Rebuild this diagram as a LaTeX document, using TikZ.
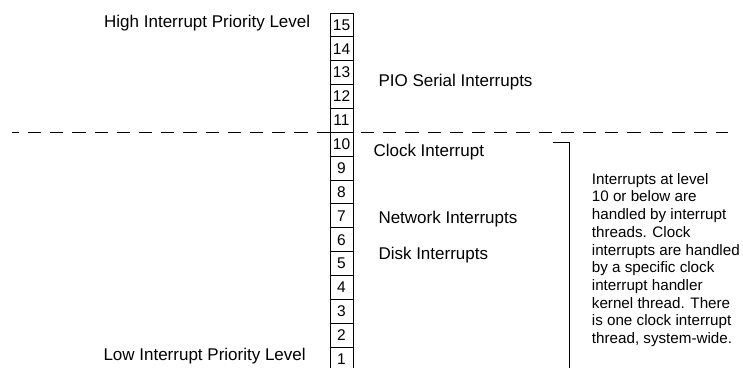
\documentclass[tikz,border=0pt]{standalone}
\usepackage{fontspec}
\setmainfont{Liberation Sans}
\begin{document}
\begin{tikzpicture}[x=1pt,y=-1pt,
  levelbox/.style={draw, line width=0.8pt, minimum width=23pt, minimum height=23.86pt,
    inner sep=0pt, font=\fontsize{15.5}{15.5}\selectfont},
  label/.style={anchor=base west, inner sep=0pt, font=\fontsize{17}{17}\selectfont},
  note/.style={anchor=north west, inner sep=0pt, align=left,
    font=\fontsize{15.2}{17.7}\selectfont},
  divider/.style={line width=0.9pt, dash pattern=on 13.3pt off 8.9pt, dash phase=6.3pt},
  bracket/.style={line width=0.9pt}]
\useasboundingbox (0,0) rectangle (743,367);
\clip (0,0) rectangle (743,367);

% boundary between high-level and thread-handled interrupts
\coordinate (dl) at (12,132);
\coordinate (dr) at (728,132);
\draw[divider] (dl) -- (dr);

% priority level column, 15 at the top
\foreach \i in {1,...,15} {
  \node[levelbox] (b\i) at (341.5, {13 + (15-\i)*23.86 + 11.93}) {\i};
}

% left-hand captions
\node[label] (high) at (104,27.3) {High Interrupt Priority Level};
\node[label] (low) at (103.3,360.7) {Low Interrupt Priority Level};

% interrupt sources
\node[label] (pio) at (378.3,86.7) {PIO Serial Interrupts};
\node[label] (clock) at (373.3,156) {Clock Interrupt};
\node[label] (net) at (378.3,223.3) {Network Interrupts};
\node[label] (disk) at (378.3,259.3) {Disk Interrupts};

% bracket spanning the thread-handled levels
\coordinate (bt0) at (553,142);
\coordinate (bt1) at (569,142);
\coordinate (bb) at (569,370);
\draw[bracket] (bt0) -- (bt1) -- (bb);

% explanatory note
\node[note] (expl) at (591.7,173) {Interrupts at level\\10 or below are\\handled by interrupt\\threads. Clock\\interrupts are handled\\by a specific clock\\interrupt handler\\kernel thread. There\\is one clock interrupt\\thread, system-wide.};
\end{tikzpicture}
\end{document}
